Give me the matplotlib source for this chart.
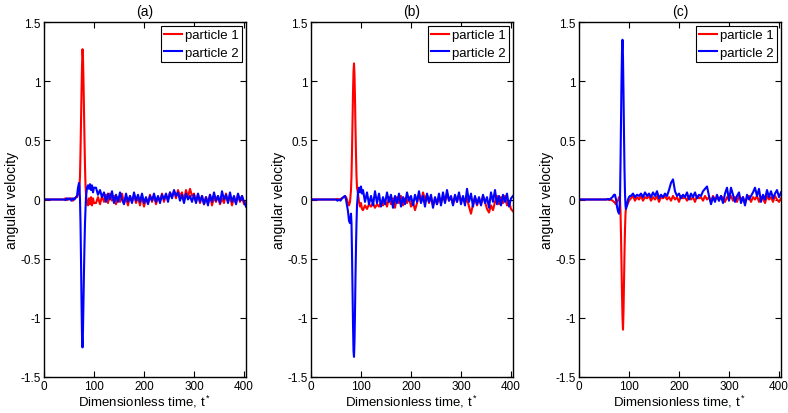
import numpy as np
import matplotlib
matplotlib.use('Agg')
import matplotlib.pyplot as plt
from matplotlib.ticker import FuncFormatter

plt.rcParams['font.family'] = ['Liberation Sans', 'DejaVu Sans']
plt.rcParams['mathtext.default'] = 'regular'

# sampled times: quiet start, fine steps round the collision, then every 4 units
noise_t = np.arange(104, 405, 4)

# ---- panel (a)
t_a = [0, 40, 43, 46, 49, 52, 55, 58, 61, 64,
       66, 68, 70, 71, 72, 73, 74, 75, 76, 77, 78, 79, 80, 81, 82, 83, 84, 86, 88, 90, 92, 94, 96, 98, 100]
p1_a = [0, 0, 0.01, -0.005, 0.01, 0, 0.01, -0.01, 0.01, 0.02,
        0.02, 0.04, 0.06, 0.1, 0.2, 0.4, 0.65, 0.9, 1.12, 1.27, 1.2, 1.0, 0.75, 0.5, 0.28, 0.12, 0.04,
        -0.03, -0.05, 0.01, -0.04, 0.02, -0.05, 0.01, -0.03,
        -0.03, 0.02, -0.04, 0.03, -0.02, 0.04, -0.03, 0.05, -0.01, 0.03,
        -0.04, 0.02, -0.02, 0.05, -0.03, 0.01, -0.05, 0.03, -0.02, 0.04,
        -0.03, 0.02, -0.05, 0.03, -0.06, 0.01, -0.03, 0.04, -0.02, 0.03,
        -0.04, 0.02, -0.01, 0.05, -0.02, 0.04, 0.00, 0.06, 0.02, 0.07,
        0.01, 0.08, 0.03, 0.06, -0.01, 0.08, 0.02, 0.09, 0.03, 0.05,
        -0.02, 0.04, -0.03, 0.03, -0.04, 0.02, -0.03, 0.04, -0.05, 0.02,
        -0.02, 0.03, -0.04, 0.01, -0.03, 0.05, -0.02, 0.03, -0.05, 0.02,
        -0.03, 0.04, -0.02, 0.03, -0.04, -0.02]
p2_a = [0, 0, -0.005, 0.01, 0.0, 0.01, -0.01, 0.01, 0.0, 0.02,
        0.03, 0.1, 0.14, 0.1, 0.0, -0.2, -0.5, -0.85, -1.15, -1.25, -1.1, -0.85, -0.6, -0.38, -0.2, -0.08, 0.02,
        0.1, 0.12, 0.09, 0.13, 0.08, 0.12, 0.06, 0.1,
        0.10, 0.04, 0.08, 0.02, 0.06, -0.02, 0.05, 0.00, 0.07, -0.03,
        0.04, -0.02, 0.06, 0.00, -0.04, 0.05, -0.02, 0.03, -0.03, 0.06,
        -0.01, 0.04, -0.02, 0.05, -0.03, 0.02, -0.04, 0.03, -0.01, 0.05,
        -0.02, 0.03, -0.03, 0.04, 0.00, 0.05, -0.02, 0.06, 0.01, 0.08,
        0.03, 0.06, -0.01, 0.04, -0.03, 0.05, 0.00, 0.03, -0.02, 0.04,
        -0.03, 0.05, -0.02, 0.03, -0.04, 0.02, -0.05, 0.04, -0.02, 0.06,
        -0.01, 0.03, -0.03, 0.07, 0.00, 0.04, -0.03, 0.06, -0.02, 0.03,
        -0.04, 0.05, -0.01, 0.03, -0.02, -0.06]

# ---- panel (b)
t_b = [0, 50, 53, 56, 59, 62, 65, 68,
       70, 72, 74, 76, 78, 80, 81, 82, 83, 84, 85, 86, 87, 88, 89, 90, 91, 92, 94, 96, 98, 100, 102]
p1_b = [0, 0, 0.005, -0.005, 0.005, 0.01, 0.02, 0.03,
        0.02, 0.0, -0.03, -0.05, -0.02, 0.08, 0.2, 0.4, 0.65, 0.9, 1.08, 1.15, 1.05, 0.85, 0.6, 0.38, 0.2,
        0.1, 0.05, -0.02, -0.06, -0.03, -0.08,
        -0.09, -0.05, -0.08, -0.04, -0.06, -0.03, -0.07, -0.04, -0.06, -0.02,
        -0.05, -0.01, -0.06, 0.02, -0.04, 0.01, -0.07, 0.02, -0.03, 0.03,
        -0.05, 0.01, -0.03, 0.02, -0.06, -0.02, -0.09, -0.03, 0.04, -0.02,
        0.06, 0.0, 0.04, -0.03, 0.02, -0.05, 0.01, -0.04, 0.02, -0.03,
        0.03, -0.02, 0.05, -0.01, 0.02, -0.04, 0.03, -0.02, 0.04, -0.01,
        0.02, -0.03, 0.01, -0.06, -0.12, -0.04, 0.02, -0.05, 0.01, -0.04,
        0.03, -0.02, -0.08, -0.11, -0.05, -0.09, -0.02, 0.03, -0.04, 0.02,
        -0.03, 0.03, -0.05, -0.02, -0.08, -0.1]
p2_b = [0, 0, -0.01, 0.0, -0.01, 0.01, 0.02, 0.03,
        0.0, -0.05, -0.1, -0.18, -0.2, -0.12, -0.2, -0.45, -0.75, -1.05, -1.28, -1.33, -1.2, -0.95, -0.65, -0.4, -0.2,
        -0.05, 0.06, 0.1, 0.06, 0.11, 0.05,
        0.08, -0.02, 0.06, -0.04, 0.03, -0.05, 0.07, -0.03, 0.05, -0.06,
        0.02, -0.04, 0.06, -0.02, 0.04, -0.07, 0.03, -0.03, 0.05, -0.06,
        0.02, -0.04, 0.06, -0.01, 0.03, -0.05, 0.04, -0.02, 0.07, -0.03,
        0.03, -0.06, 0.05, -0.02, 0.04, -0.07, 0.02, -0.04, 0.05, -0.05,
        0.06, -0.03, 0.08, -0.01, 0.03, -0.05, 0.04, -0.02, 0.06, -0.04,
        0.03, -0.05, 0.09, -0.02, 0.05, -0.06, 0.03, -0.04, 0.02, -0.05,
        0.04, -0.03, 0.02, -0.07, 0.06, -0.02, 0.08, -0.04, 0.03, -0.05,
        0.04, -0.02, 0.05, -0.06, 0.01, 0.03]

# ---- panel (c)
t_c = [0, 55, 58, 61, 64, 67, 70,
       72, 74, 76, 78, 80, 82, 83, 84, 85, 86, 87, 88, 89, 90, 91, 92, 93, 94, 96, 98, 100, 102]
p1_c = [0, 0, 0.0, -0.005, 0.0, -0.01, -0.02,
        -0.03, -0.04, -0.02, -0.01, 0.02, 0.0, -0.1, -0.3, -0.55, -0.8, -1.0, -1.1, -0.95, -0.7, -0.45, -0.25,
        -0.12, -0.06, -0.05, -0.03, -0.01, 0.0,
        0.01, 0.03, -0.01, 0.02, 0.0, 0.03, -0.01, 0.02, 0.01, 0.03,
        -0.01, 0.02, 0.0, 0.03, -0.02, 0.02, 0.01, 0.03, 0.0, 0.02,
        -0.01, 0.03, 0.0, 0.02, -0.02, 0.03, 0.01, 0.02, -0.01, 0.03,
        0.0, 0.02, -0.02, 0.03, 0.01, 0.02, -0.01, 0.03, 0.0, 0.02,
        -0.02, 0.03, 0.0, 0.02, -0.01, 0.03, 0.01, -0.02, 0.02, 0.0,
        0.03, -0.01, 0.02, -0.02, 0.03, 0.0, 0.02, -0.03, 0.01, 0.03,
        -0.02, 0.02, 0.0, 0.03, -0.02, 0.02, 0.01, -0.03, 0.03, 0.0,
        0.02, -0.02, 0.03, 0.0, -0.02, 0.01]
p2_c = [0, 0, 0.005, 0.0, 0.01, 0.02, 0.04,
        0.04, 0.0, -0.06, -0.1, -0.12, 0.0, 0.3, 0.65, 1.0, 1.25, 1.35, 1.2, 0.9, 0.55, 0.25, 0.05,
        -0.05, -0.08, -0.05, 0.0, 0.02, 0.03,
        0.03, 0.05, 0.02, 0.04, 0.03, 0.05, 0.02, 0.06, 0.03, 0.05,
        0.02, 0.06, 0.03, 0.07, 0.01, 0.04, 0.02, 0.05, 0.03, 0.08,
        0.14, 0.17, 0.07, 0.03, 0.05, 0.01, 0.04, 0.02, 0.06, 0.0,
        0.05, 0.02, 0.06, 0.01, 0.04, 0.03, 0.07, 0.09, 0.11, 0.03,
        -0.04, 0.02, -0.02, 0.04, -0.01, 0.03, -0.03, 0.05, 0.1, -0.01,
        0.1, 0.04, -0.02, 0.03, 0.06, -0.03, 0.02, -0.05, 0.04, 0.0,
        0.03, 0.06, 0.1, 0.03, 0.09, -0.02, 0.04, 0.0, 0.08, 0.02,
        0.07, 0.01, 0.05, 0.08, 0.02, 0.06]

panels = [('(a)', t_a, p1_a, p2_a),
          ('(b)', t_b, p1_b, p2_b),
          ('(c)', t_c, p1_c, p2_c)]

fig = plt.figure(figsize=(7.88, 4.14), dpi=100)
lefts = [44, 311, 579]

for left, (title, t, p1, p2) in zip(lefts, panels):
    ax = fig.add_axes([left / 788, 36 / 414, 202 / 788, 355 / 414])
    tt = np.concatenate([t, noise_t])
    ax.plot(tt, p1, color='#ff0000', lw=1.5, label='particle 1')
    ax.plot(tt, p2, color='#0000ff', lw=1.5, label='particle 2')
    ax.set_xlim(0, 404)
    ax.set_ylim(-1.5, 1.5)
    ax.set_xticks([0, 100, 200, 300, 400])
    ax.set_yticks([-1.5, -1, -0.5, 0, 0.5, 1, 1.5])
    ax.yaxis.set_major_formatter(FuncFormatter(lambda v, p: '%g' % v))
    ax.tick_params(direction='in', top=True, right=True, length=4, width=0.8,
                   labelsize=8.5, pad=2.5)
    for s in ax.spines.values():
        s.set_linewidth(1.0)
    ax.set_title(title, fontsize=10, pad=5)
    ax.set_xlabel('Dimensionless time, t$^*$', fontsize=9.5, labelpad=0)
    ax.set_ylabel('angular velocity', fontsize=10, labelpad=1)
    leg = ax.legend(loc='upper right', fontsize=9.5, fancybox=False, framealpha=1,
                    edgecolor='black', handlelength=1.4, handletextpad=0.2,
                    borderpad=0.25, labelspacing=0.4, borderaxespad=0.3)
    leg.get_frame().set_linewidth(0.8)

fig.savefig('out.png', dpi=100)
